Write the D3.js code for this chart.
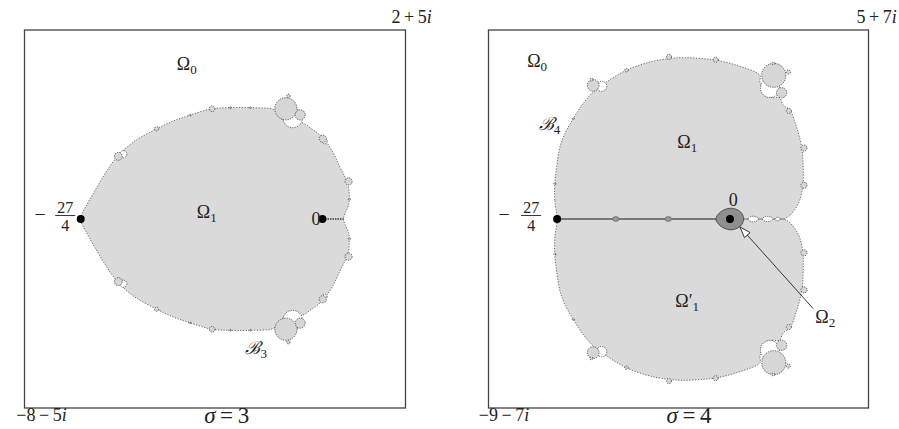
<!DOCTYPE html>
<html>
<head>
<meta charset="utf-8">
<script src="https://cdn.jsdelivr.net/npm/d3@7"></script>
<style>
body { margin: 0; background: #fff; }
</style>
</head>
<body>
<script>
// boundaries as [re, im], upper half only
// (the sets are symmetric under conjugation, lower half is mirrored)
var leftBody = [
	[-6.75, 0], [-6.56, 0.43], [-6.35, 0.80], [-6.07, 1.27], [-5.74, 1.73], [-5.28, 2.15],
	[-4.63, 2.52], [-4.16, 2.74], [-3.70, 2.90], [-3.09, 3.08], [-2.58, 3.11], [-2.02, 3.11],
	[-1.35, 3.05], [-1.18, 2.85], [-0.99, 2.66], [-0.81, 2.62], [-0.58, 2.69], [-0.30, 2.52],
	[0.03, 2.25], [0.31, 1.83], [0.49, 1.45], [0.63, 1.17], [0.73, 0.89], [0.75, 0.61],
	[0.73, 0.38], [0.63, 0.15], [0.59, 0]
];
var rightBody = [
	[-6.75, 0], [-6.84, 0.73], [-6.84, 1.38], [-6.77, 2.03], [-6.64, 2.81], [-6.45, 3.33],
	[-6.12, 3.92], [-5.73, 4.51], [-5.34, 4.96], [-4.82, 5.35], [-4.04, 5.81], [-3.13, 6.13],
	[-2.41, 6.26], [-1.82, 6.30], [-1.04, 6.26], [-0.52, 6.20], [0.26, 6.00], [1.17, 5.61],
	[1.17, 5.35], [1.37, 4.96], [1.63, 4.74], [1.93, 4.74], [2.08, 4.44], [2.34, 4.25],
	[2.60, 3.59], [2.80, 2.81], [2.86, 2.03], [2.84, 1.25], [2.67, 0.60], [2.34, 0.14], [2.15, 0]
];

// bulbs on the boundary: [re, im, radius, kind]  g = grey, w = white
var leftBulbs = [
	[-0.83, 2.82, 0.27, "w"], [-5.56, 1.81, 0.10, "w"], [0.06, 2.17, 0.07, "w"],
	[-1.02, 3.08, 0.31, "g"], [-0.62, 2.91, 0.14, "g"], [-0.95, 3.44, 0.05, "g"],
	[-3.08, 3.08, 0.08, "g"], [-4.63, 2.52, 0.06, "g"], [-5.70, 1.75, 0.11, "g"],
	[0.01, 2.24, 0.10, "g"], [0.73, 1.05, 0.10, "g"], [-2.58, 3.11, 0.03, "g"],
	[-2.02, 3.11, 0.03, "g"], [-3.70, 2.90, 0.03, "g"], [0.75, 0.55, 0.03, "g"]
];
var rightBulbs = [
	[1.56, 5.11, 0.37, "w"], [-5.01, 5.18, 0.20, "w"],
	[1.71, 5.61, 0.47, "g"], [2.02, 4.93, 0.20, "g"], [1.69, 6.07, 0.06, "g"],
	[2.28, 5.74, 0.08, "g"], [2.30, 4.22, 0.10, "g"], [-2.38, 6.33, 0.10, "g"],
	[-0.56, 6.22, 0.10, "g"], [-4.04, 5.81, 0.07, "g"], [-5.34, 5.22, 0.23, "g"],
	[-5.41, 5.44, 0.06, "g"], [2.89, 2.77, 0.12, "g"], [2.89, 1.32, 0.12, "g"],
	[-6.12, 3.92, 0.04, "g"], [-6.84, 1.38, 0.04, "g"]
];

// region Omega_2 around 0 and the white beads towards the cusp (sigma = 4)
var omega2 = [[-0.55, 0], [-0.36, 0.28], [0, 0.42], [0.36, 0.32], [0.52, 0.1], [0.52, -0.1], [0.36, -0.32], [0, -0.42], [-0.36, -0.28]];
var beads = [[0.91, 0.20, 0.11], [1.47, 0.20, 0.10], [1.86, 0.10, 0.07]];
var axisBeads = [-4.46, -2.41];

var cornerLabels = [
	{ lo: ["−8\u2009−\u20095", "i"], hi: ["2\u2009+\u20095", "i"], sigma: "3" },
	{ lo: ["−9\u2009−\u20097", "i"], hi: ["5\u2009+\u20097", "i"], sigma: "4" }
];

var width = 899, height = 429;
var serif = "'Liberation Serif', 'Times New Roman', 'DejaVu Serif', serif";

var svg = d3.select("body").append("svg")
	.attr("width", width)
	.attr("height", height)
	.attr("font-family", serif)
	.style("background", "#fff");

function mirror(pts) {
	var low = pts.slice(1, -1).reverse().map(function(p) { return [p[0], -p[1]]; });
	return pts.concat(low);
}

function makePanel(opts) {
	var x = d3.scaleLinear().domain(opts.re).range([opts.left, opts.right]);
	var y = d3.scaleLinear().domain(opts.im).range([opts.bottom, opts.top]);
	var k = x(1) - x(0);
	var g = svg.append("g");

	g.append("rect")
		.attr("x", opts.left).attr("y", opts.top)
		.attr("width", opts.right - opts.left).attr("height", opts.bottom - opts.top)
		.attr("fill", "none").attr("stroke", "#444").attr("stroke-width", 1.3);

	var line = d3.line()
		.x(function(d) { return x(d[0]); })
		.y(function(d) { return y(d[1]); })
		.curve(d3.curveCatmullRomClosed.alpha(0.5));

	g.append("path")
		.attr("d", line(mirror(opts.body)))
		.attr("fill", "#dadada")
		.attr("stroke", "#444")
		.attr("stroke-width", 0.8)
		.attr("stroke-dasharray", "1.2,1.6");

	var bulbs = opts.bulbs.concat(opts.bulbs.map(function(b) { return [b[0], -b[1], b[2], b[3]]; }));
	bulbs.sort(function(a, b) { return (a[3] === "w" ? 0 : 1) - (b[3] === "w" ? 0 : 1); });
	g.selectAll("circle.bulb").data(bulbs).enter().append("circle")
		.attr("class", "bulb")
		.attr("cx", function(d) { return x(d[0]); })
		.attr("cy", function(d) { return y(d[1]); })
		.attr("r", function(d) { return d[2] * k; })
		.attr("fill", function(d) { return d[3] === "w" ? "#fff" : "#d6d6d6"; })
		.attr("stroke", "#333")
		.attr("stroke-width", 0.8)
		.attr("stroke-dasharray", "1.2,1.2");

	return { g: g, x: x, y: y, k: k };
}

function mathText(g, px, py, parts, size, anchor) {
	var t = g.append("text")
		.attr("x", px).attr("y", py)
		.attr("font-size", size)
		.attr("fill", "#222")
		.attr("text-anchor", anchor || "middle");
	parts.forEach(function(p, i) {
		t.append("tspan").text(p).attr("font-style", i % 2 ? "italic" : "normal");
	});
	return t;
}

function omega(g, px, py, sub, prime) {
	var t = g.append("text").attr("x", px).attr("y", py).attr("font-size", 18)
		.attr("fill", "#222").attr("text-anchor", "middle");
	t.append("tspan").text(prime ? "Ω′" : "Ω");
	t.append("tspan").text(sub).attr("font-size", 13).attr("dy", 4);
}

function fraction(g, px, py, dx, gap) {
	g.append("text").attr("x", px + dx - gap).attr("y", py + 1.5).attr("font-size", 20)
		.attr("fill", "#222").attr("text-anchor", "middle").text("−");
	g.append("text").attr("x", px + dx).attr("y", py - 6.5).attr("font-size", 16)
		.attr("fill", "#222").attr("text-anchor", "middle").text("27");
	g.append("line").attr("x1", px + dx - 10).attr("x2", px + dx + 10)
		.attr("y1", py - 3.5).attr("y2", py - 3.5)
		.attr("stroke", "#222").attr("stroke-width", 0.9);
	g.append("text").attr("x", px + dx).attr("y", py + 12).attr("font-size", 16)
		.attr("fill", "#222").attr("text-anchor", "middle").text("4");
}

function script(g, px, py, sub) {
	var t = g.append("text").attr("x", px).attr("y", py).attr("font-size", 18)
		.attr("fill", "#222").attr("text-anchor", "middle");
	t.append("tspan").text("ℬ").attr("font-style", "italic");
	t.append("tspan").text(sub).attr("font-size", 13).attr("dy", 4);
}

// ---- sigma = 3 ----
var L = makePanel({ re: [-8.32, 2.32], im: [-5.28, 5.28], left: 24.5, right: 405.5, top: 30, bottom: 408, body: leftBody, bulbs: leftBulbs });

L.g.append("line")
	.attr("x1", L.x(0)).attr("x2", L.x(0.59)).attr("y1", L.y(0)).attr("y2", L.y(0))
	.attr("stroke", "#333").attr("stroke-width", 1.3).attr("stroke-dasharray", "1.5,1");
[-6.75, 0].forEach(function(re) {
	L.g.append("circle").attr("cx", L.x(re)).attr("cy", L.y(0)).attr("r", 4).attr("fill", "#000");
});
fraction(L.g, L.x(-6.75), L.y(0), -15.5, 25);
omega(L.g, L.x(-3.79), L.y(4.16), "0");
omega(L.g, L.x(-3.23), L.y(0.02), "1");
L.g.append("text").attr("x", L.x(-0.18)).attr("y", L.y(-0.17)).attr("font-size", 18)
	.attr("fill", "#222").attr("text-anchor", "middle").text("0");
script(L.g, L.x(-1.85), L.y(-3.78), "3");

// ---- sigma = 4 ----
var R = makePanel({ re: [-9.43, 5.41], im: [-7.38, 7.38], left: 488.5, right: 868.5, top: 30, bottom: 408, body: rightBody, bulbs: rightBulbs });

R.g.append("line")
	.attr("x1", R.x(-6.75)).attr("x2", R.x(-0.5)).attr("y1", R.y(0)).attr("y2", R.y(0))
	.attr("stroke", "#777").attr("stroke-width", 2.2);
R.g.selectAll("ellipse.ax").data(axisBeads).enter().append("ellipse")
	.attr("cx", function(d) { return R.x(d); }).attr("cy", R.y(0))
	.attr("rx", 3.2).attr("ry", 2.4)
	.attr("fill", "#999").attr("stroke", "#666").attr("stroke-width", 0.7);
R.g.append("line")
	.attr("x1", R.x(0.5)).attr("x2", R.x(2.15)).attr("y1", R.y(0)).attr("y2", R.y(0))
	.attr("stroke", "#555").attr("stroke-width", 0.8);
R.g.selectAll("ellipse.bead").data(beads).enter().append("ellipse")
	.attr("cx", function(d) { return R.x(d[0]); }).attr("cy", R.y(0))
	.attr("rx", function(d) { return d[1] * R.k; }).attr("ry", function(d) { return d[2] * R.k; })
	.attr("fill", "#fff").attr("stroke", "#444").attr("stroke-width", 0.8).attr("stroke-dasharray", "1.2,1");

var blob = d3.line()
	.x(function(d) { return R.x(d[0]); })
	.y(function(d) { return R.y(d[1]); })
	.curve(d3.curveCatmullRomClosed.alpha(0.5));
R.g.append("path").attr("d", blob(omega2))
	.attr("fill", "#8f8f8f").attr("stroke", "#444").attr("stroke-width", 0.9);
[-6.75, 0].forEach(function(re) {
	R.g.append("circle").attr("cx", R.x(re)).attr("cy", R.y(0)).attr("r", 4).attr("fill", "#000");
});
fraction(R.g, R.x(-6.75), R.y(0), -26, 27);
omega(R.g, R.x(-7.53), R.y(5.92), "0");
omega(R.g, R.x(-1.67), R.y(2.77), "1");
omega(R.g, R.x(-1.67), R.y(-3.42), "1", true);
omega(R.g, R.x(3.72), R.y(-4.06), "2");
R.g.append("text").attr("x", R.x(0.13)).attr("y", R.y(0.5)).attr("font-size", 18)
	.attr("fill", "#222").attr("text-anchor", "middle").text("0");
script(R.g, R.x(-7.05), R.y(3.48), "4");

// arrow pointing at Omega_2
var tip = [R.x(0.39), R.y(-0.31)], tail = [R.x(3.25), R.y(-3.5)];
var ang = Math.atan2(tail[1] - tip[1], tail[0] - tip[0]);
R.g.append("line")
	.attr("x1", tail[0]).attr("y1", tail[1])
	.attr("x2", tip[0] + 9 * Math.cos(ang)).attr("y2", tip[1] + 9 * Math.sin(ang))
	.attr("stroke", "#222").attr("stroke-width", 0.9);
var hl = 11, hw = 3.8;
var bx = tip[0] + hl * Math.cos(ang), by = tip[1] + hl * Math.sin(ang);
R.g.append("path")
	.attr("d", "M" + tip[0] + "," + tip[1] +
		"L" + (bx - hw * Math.sin(ang)) + "," + (by + hw * Math.cos(ang)) +
		"L" + (bx + hw * Math.sin(ang)) + "," + (by - hw * Math.cos(ang)) + "Z")
	.attr("fill", "#fff").attr("stroke", "#222").attr("stroke-width", 0.9);

// corner labels and titles
[[L, 41.5, 411.7, 226.7], [R, 504, 876.7, 689]].forEach(function(p, i) {
	var c = cornerLabels[i];
	mathText(p[0].g, p[1], 421, c.lo, 18);
	mathText(p[0].g, p[2], 22.5, c.hi, 18);
	mathText(p[0].g, p[3], 423, ["", "σ", "\u2009=\u2009" + c.sigma], 23);
});
</script>
</body>
</html>
